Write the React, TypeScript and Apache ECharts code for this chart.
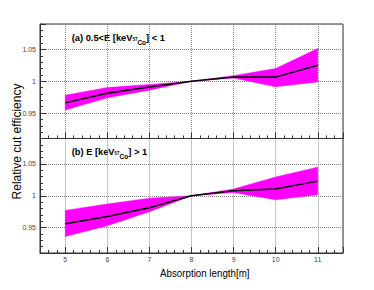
import React, { useEffect, useRef } from "react";
import * as echarts from "echarts";

// Absorption length [m]
const absorptionLengths = [5, 6, 7, 8, 9, 10, 11];
const xTickLabels = ["5", "6", "7", "8", "9", "10", "11"];
const yTickLabels = ["0.95", "1", "1.05"];

// Panel (a): 0.5 < E [keV_57Co] < 1
const aCenter = [0.966, 0.981, 0.991, 1.0, 1.0065, 1.0065, 1.025];
const aUpper = [0.978, 0.99, 0.995, 1.0, 1.0088, 1.02, 1.0515];
const aLower = [0.955, 0.974, 0.986, 1.0, 1.005, 0.9915, 0.999];

// Panel (b): E [keV_57Co] > 1
const bCenter = [0.956, 0.9675, 0.981, 1.0, 1.008, 1.0105, 1.023];
const bUpper = [0.977, 0.987, 0.996, 1.0, 1.0105, 1.0295, 1.045];
const bLower = [0.936, 0.953, 0.975, 1.0, 1.005, 0.9937, 1.0016];

const FONT = "Liberation Sans, Arial, Helvetica, sans-serif";

export default function App() {
  const ref = useRef<HTMLDivElement>(null);

  useEffect(() => {
    const chart = echarts.init(ref.current!, undefined, { renderer: "svg" });

    const xFmt = (v: number) => {
      const r = Math.round(v);
      if (Math.abs(v - r) > 1e-6) return "";
      const i = absorptionLengths.indexOf(r);
      return i >= 0 ? xTickLabels[i] : "";
    };
    const yFmt = (v: number) => {
      const s = String(Math.round(v * 100) / 100);
      return yTickLabels.indexOf(s) >= 0 && Math.abs(v * 20 - Math.round(v * 20)) < 1e-6 ? s : "";
    };

    const grids = [
      { left: 40, right: 31, top: 24, height: 114.5 },
      { left: 40, right: 31, top: 138.5, height: 114.5 },
    ].map((g) => ({ ...g, show: true, borderColor: "#333", borderWidth: 1, backgroundColor: "transparent" }));

    const xAxes: any[] = [];
    const yAxes: any[] = [];
    for (let g = 0; g < 2; g++) {
      xAxes.push({
        type: "value",
        gridIndex: g,
        min: 4.4,
        max: 11.6,
        splitNumber: 7,
        position: "bottom",
        axisLine: { show: true, lineStyle: { color: "#333", width: 1 } },
        axisTick: { show: true, inside: true, length: 6, lineStyle: { color: "#333" } },
        axisLabel: { show: g === 1, fontSize: 7, color: "#444", margin: 3, fontFamily: FONT, formatter: xFmt },
        splitLine: { show: true, lineStyle: { color: "#888", type: "dotted", width: 1 } },
      });
      xAxes.push({
        type: "value",
        gridIndex: g,
        min: 4.4,
        max: 11.6,
        interval: 0.2,
        position: "bottom",
        axisLine: { show: false },
        axisTick: { show: true, inside: true, length: 3, lineStyle: { color: "#333" } },
        axisLabel: { show: false },
        splitLine: { show: false },
      });
      yAxes.push({
        type: "value",
        gridIndex: g,
        min: 0.91,
        max: 1.09,
        splitNumber: 4,
        position: "left",
        axisLine: { show: true, lineStyle: { color: "#333", width: 1 } },
        axisTick: { show: true, inside: true, length: 6, lineStyle: { color: "#333" } },
        axisLabel: { show: true, fontSize: 7, color: "#444", margin: 4, fontFamily: FONT, formatter: yFmt },
        splitLine: { show: true, lineStyle: { color: "#888", type: "dotted", width: 1 } },
      });
      yAxes.push({
        type: "value",
        gridIndex: g,
        min: 0.91,
        max: 1.09,
        interval: 0.01,
        position: "left",
        axisLine: { show: false },
        axisTick: { show: true, inside: true, length: 3, lineStyle: { color: "#333" } },
        axisLabel: { show: false },
        splitLine: { show: false },
      });
    }

    const panels = [
      { c: aCenter, u: aUpper, l: aLower },
      { c: bCenter, u: bUpper, l: bLower },
    ];
    const series: any[] = [];
    panels.forEach((p, g) => {
      const ax = { xAxisIndex: 2 * g, yAxisIndex: 2 * g };
      const bandData = absorptionLengths.map((x, i) => [x, p.l[i], p.u[i]]);
      series.push({
        type: "custom",
        ...ax,
        data: bandData,
        silent: true,
        z: 2,
        encode: { x: 0, y: [1, 2] },
        renderItem: (params: any, api: any) => {
          if (params.dataIndex !== 0) return null;
          const upper = bandData.map((d) => api.coord([d[0], d[2]]));
          const lower = bandData.map((d) => api.coord([d[0], d[1]])).reverse();
          return {
            type: "polygon",
            shape: { points: upper.concat(lower) },
            style: { fill: "#ff00ff", stroke: "#ff00ff", lineWidth: 0.5 },
          };
        },
      });
      series.push({
        type: "line",
        ...ax,
        data: absorptionLengths.map((x, i) => [x, p.c[i]]),
        symbol: "none",
        silent: true,
        lineStyle: { color: "#000", width: 1.5 },
        z: 5,
      });
    });

    const labelRich = (fs: number) => ({
      b: { fontSize: fs, fontWeight: "bold", fontFamily: FONT, fill: "#000", lineHeight: 16, verticalAlign: "middle" },
      s1: { fontSize: 4.5, fontWeight: "bold", fontFamily: FONT, fill: "#000", lineHeight: 16, verticalAlign: "middle", padding: [4, 0, 0, 0] },
      s2: { fontSize: 6.5, fontWeight: "bold", fontFamily: FONT, fill: "#000", lineHeight: 16, verticalAlign: "middle", padding: [9, 0, 0, 0] },
    });

    chart.setOption({
      animation: false,
      backgroundColor: "#fff",
      grid: grids,
      xAxis: xAxes,
      yAxis: yAxes,
      series,
      graphic: [
        {
          type: "text",
          x: 17,
          y: 141.5,
          rotation: Math.PI / 2,
          style: { text: "Relative cut efficiency", fontSize: 12, fontFamily: FONT, fill: "#000", align: "center", verticalAlign: "middle" },
        },
        {
          type: "text",
          x: 160,
          y: 272.5,
          scaleX: 0.85,
          style: { text: "Absorption length[m]", fontSize: 11.5, fontFamily: FONT, fill: "#000", align: "left", verticalAlign: "middle" },
        },
        {
          type: "text",
          x: 71.7,
          y: 37.5,
          style: { text: "{b|(a) 0.5<E [keV}{s1|57}{s2|Co}{b|] < 1}", rich: labelRich(9.3), verticalAlign: "middle", align: "left" },
        },
        {
          type: "text",
          x: 71.7,
          y: 151.5,
          style: { text: "{b|(b) E [keV}{s1|57}{s2|Co}{b|] > 1}", rich: labelRich(9.3), verticalAlign: "middle", align: "left" },
        },
      ],
    });

    return () => chart.dispose();
  }, []);

  return <div ref={ref} style={{ position: "fixed", left: 0, top: 0, width: 374, height: 290 }} />;
}
